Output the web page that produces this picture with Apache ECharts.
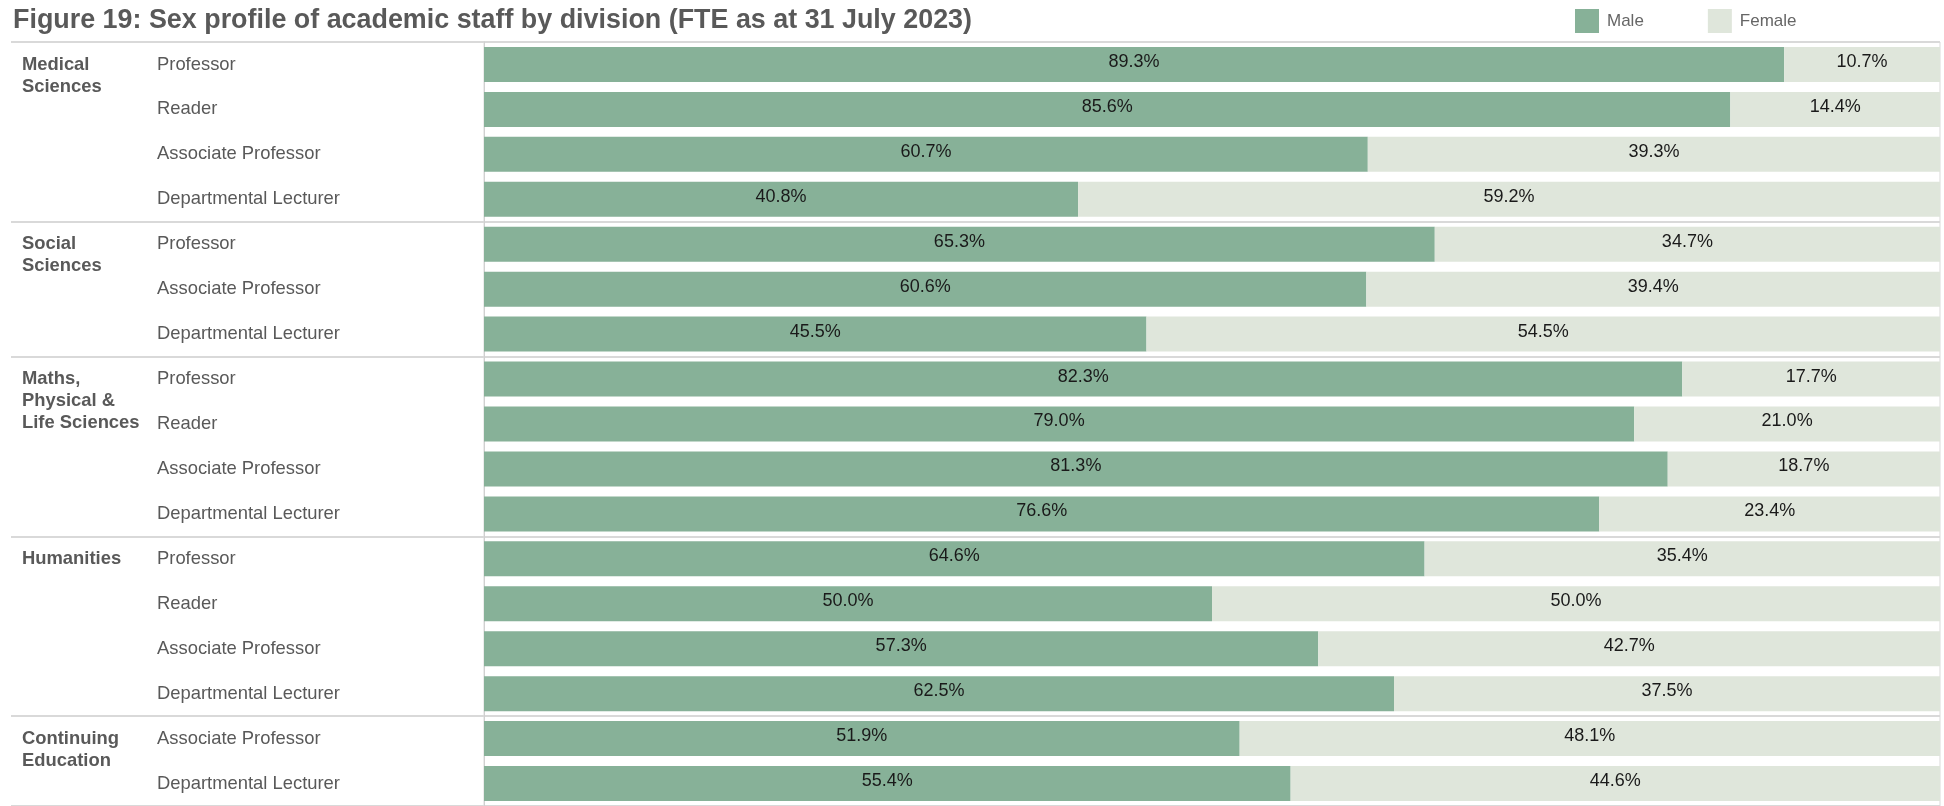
<!DOCTYPE html>
<html><head><meta charset="utf-8">
<script src="https://cdn.jsdelivr.net/npm/echarts@6/dist/echarts.min.js"></script>
<style>html,body{margin:0;padding:0;background:#fff}#c{width:1944px;height:806px}</style>
</head><body><div id="c"></div>
<script>
const divisions = ['Medical\nSciences', 'Social\nSciences', 'Maths,\nPhysical &\nLife Sciences', 'Humanities', 'Continuing\nEducation'];
const divisionOf = [0,0,0,0, 1,1,1, 2,2,2,2, 3,3,3,3, 4,4];
const roles = ['Professor','Reader','Associate Professor','Departmental Lecturer',
  'Professor','Associate Professor','Departmental Lecturer',
  'Professor','Reader','Associate Professor','Departmental Lecturer',
  'Professor','Reader','Associate Professor','Departmental Lecturer',
  'Associate Professor','Departmental Lecturer'];
const male = [89.3,85.6,60.7,40.8, 65.3,60.6,45.5, 82.3,79.0,81.3,76.6, 64.6,50.0,57.3,62.5, 51.9,55.4];
const female = [10.7,14.4,39.3,59.2, 34.7,39.4,54.5, 17.7,21.0,18.7,23.4, 35.4,50.0,42.7,37.5, 48.1,44.6];
const seriesNames = ['Male', 'Female'];
const titleText = 'Figure 19: Sex profile of academic staff by division (FTE as at 31 July 2023)';

const FONT = "'Liberation Sans', Arial, sans-serif";
const TITLE_FONT = "bold 28px 'Liberation Sans', Arial, sans-serif";
const isGroupStart = i => i === 0 || divisionOf[i] !== divisionOf[i - 1];
const rowIdx = roles.map((r, i) => String(i));

// horizontally condense the title to the reference width
const ctx = document.createElement('canvas').getContext('2d');
ctx.font = TITLE_FONT;
const titleScale = 959 / ctx.measureText(titleText).width;

const chart = echarts.init(document.getElementById('c'), null, {renderer: 'canvas'});
const labelFmt = p => p.value.toFixed(1) + '%';
chart.setOption({
  animation: false,
  backgroundColor: '#fff',
  textStyle: {fontFamily: FONT},
  graphic: [{
    type: 'text', x: 13, y: 20, scaleX: titleScale, silent: true,
    style: {text: titleText, font: TITLE_FONT, fill: '#595959', verticalAlign: 'middle', align: 'left'}
  }],
  legend: {
    data: seriesNames, left: 1575, top: 9, icon: 'rect', padding: 0,
    itemWidth: 24, itemHeight: 24, itemGap: 64,
    textStyle: {fontSize: 17, color: '#666', fontFamily: FONT, padding: [0, 0, 0, 3]}
  },
  grid: [
    {left: 11, right: 4, top: 42, height: 768},
    {left: 484, right: 4, top: 42, height: 768, show: true, borderColor: '#d9d9d9', borderWidth: 1, backgroundColor: 'transparent'}
  ],
  xAxis: [
    {gridIndex: 0, type: 'value', min: 0, max: 1, show: false},
    {gridIndex: 1, type: 'value', min: 0, max: 100, show: false}
  ],
  yAxis: [
    {gridIndex: 0, type: 'category', inverse: true, data: rowIdx,
      axisLine: {show: false}, axisTick: {show: false},
      splitLine: {show: true, interval: (i) => isGroupStart(i), lineStyle: {color: '#d9d9d9', width: 2}},
      axisLabel: {inside: true, margin: 11, align: 'left', interval: 0,
        fontSize: 18.4, fontWeight: 'bold', color: '#595959', lineHeight: 22, fontFamily: FONT,
        formatter: (v, i) => {
          if (!isGroupStart(i)) return '';
          const t = divisions[divisionOf[i]];
          const n = t.split('\n').length;
          return '\n'.repeat(n - 1) + t;
        }}
    },
    {gridIndex: 1, type: 'category', inverse: true, data: roles,
      axisLine: {show: true, lineStyle: {color: '#d0d0d0', width: 1}}, axisTick: {show: false},
      axisLabel: {align: 'left', margin: 327, interval: 0, fontSize: 18.4, color: '#595959', fontFamily: FONT}
    }
  ],
  series: [
    {name: seriesNames[0], type: 'bar', stack: 'a', xAxisIndex: 1, yAxisIndex: 1, barWidth: 35,
      data: male, itemStyle: {color: '#87b198'},
      label: {show: true, position: 'inside', formatter: labelFmt, color: '#1a1a1a', fontSize: 18, fontFamily: FONT, offset: [0, -2.5]}},
    {name: seriesNames[1], type: 'bar', stack: 'a', xAxisIndex: 1, yAxisIndex: 1, barWidth: 35,
      data: female, itemStyle: {color: '#dfe6db'},
      label: {show: true, position: 'inside', formatter: labelFmt, color: '#1a1a1a', fontSize: 18, fontFamily: FONT, offset: [0, -2.5]}}
  ]
});
</script></body></html>
